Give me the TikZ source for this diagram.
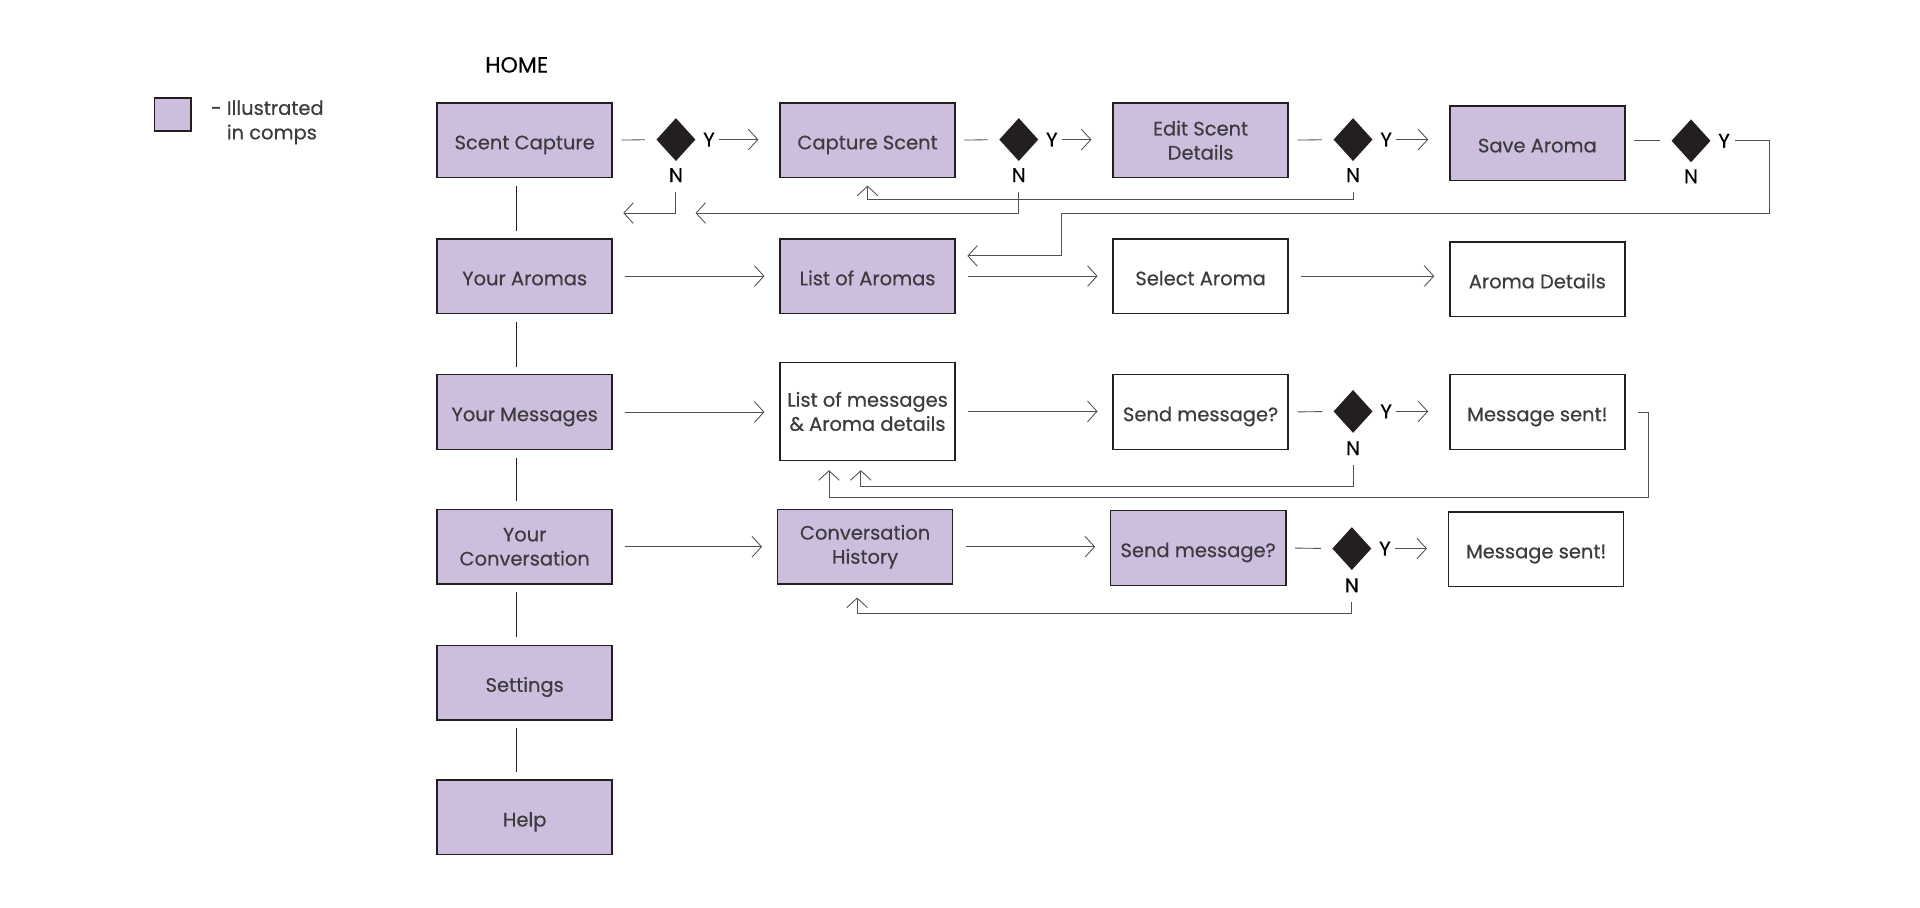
\documentclass[tikz,border=0pt]{standalone}
\usepackage{fontspec}
\setmainfont{Poppins}[FakeBold=0.4]
\usetikzlibrary{shapes.geometric,arrows.meta}
\definecolor{lav}{RGB}{206,190,222}
\definecolor{edge}{RGB}{35,31,32}
\definecolor{ink}{RGB}{60,59,61}
\definecolor{wire}{RGB}{80,80,80}
\begin{document}
\begin{tikzpicture}[x=0.025cm,y=-0.025cm,draw=wire,>={Straight Barb[length=5.5pt,width=12pt]}]
	\tikzstyle{screen}=[rectangle,draw=edge,line width=0.9pt,
	minimum width=3.575cm,minimum height=1.525cm,
	inner sep=2pt,align=center,text=ink,
	font=\fontsize{11.3}{14}\selectfont
	]
	\tikzstyle{comp}=[screen, fill=lav];
	\tikzstyle{plain}=[screen, fill=white];
	\tikzstyle{one}=[text height=10.6pt,text depth=0pt];
	\tikzstyle{choice}=[diamond,fill=edge,minimum width=0.8cm,minimum height=0.88cm,inner sep=0pt];
	\tikzstyle{yn}=[inner sep=0pt,text=black,font=\fontsize{11.5}{12}\selectfont];
	\tikzstyle{flow}=[->,line width=0.5pt,shorten <=0.25cm,shorten >=0.3cm];
	\tikzstyle{stub}=[line width=0.5pt,shorten <=0.175cm,shorten >=0.225cm];
	\tikzstyle{back}=[->,line width=0.5pt,shorten <=0.2cm];

\useasboundingbox (0,0) rectangle (1568,741);

\node[screen,fill=lav,minimum width=0.75cm,minimum height=0.675cm](key) at (141,93.5){};
\node[anchor=west,align=left,inner sep=0pt,text=ink,font=\fontsize{11.3}{14.2}\selectfont](keytext) at (172,100){- Illustrated\\\phantom{- }in comps};
\node[yn,font=\fontsize{12.8}{14}\selectfont](home) at (422,53){HOME};

\node[comp,one](sc) at (428.5,114.5){Scent Capture};
\node[comp,one](ya) at (428.5,225.5){Your Aromas};
\node[comp,one](ym) at (428.5,336.5){Your Messages};
\node[comp](yc) at (428.5,446.5){Your\\Conversation};
\node[comp,one](st) at (428.5,557.5){Settings};
\node[comp,one](hp) at (428.5,667.5){Help};

\node[comp,one](cs) at (708.5,114.5){Capture Scent};
\node[comp](es) at (980.5,114.5){Edit Scent\\Details};
\node[comp,one](sv) at (1255.5,117){Save Aroma};

\node[comp,one](la) at (708.5,225.5){List of Aromas};
\node[plain,one](sa) at (980.5,225.5){Select Aroma};
\node[plain,one](ad) at (1255.5,228){Aroma Details};

\node[plain,minimum height=2cm](lm) at (708.5,336){List of messages\\\&~Aroma details};
\node[plain,one](sm1) at (980.5,336.5){Send message?};
\node[plain,one](ms1) at (1255.5,336.5){Message sent!};

\node[comp](ch) at (706.5,446.5){Conversation\\History};
\node[comp,one](sm2) at (978.5,447.5){Send message?};
\node[plain,one](ms2) at (1254.5,448.5){Message sent!};

\node[choice](d1) at (552,114){};
\node[choice](d2) at (832,114){};
\node[choice](d3) at (1105,114){};
\node[choice](d4) at (1381,115){};
\node[choice](d5) at (1105,336){};
\node[choice](d6) at (1104,448){};

\node[yn](y1) at (579,114){Y};
\node[yn](y2) at (859,114){Y};
\node[yn](y3) at (1132,114){Y};
\node[yn](y4) at (1408,115){Y};
\node[yn](y5) at (1132,336){Y};
\node[yn](y6) at (1131,448){Y};
\node[yn](n1) at (552,143){N};
\node[yn](n2) at (832,143){N};
\node[yn](n3) at (1105,143){N};
\node[yn](n4) at (1381,144){N};
\node[yn](n5) at (1105,366){N};
\node[yn](n6) at (1104,478){N};

\coordinate (t1) at (509,174);
\coordinate (t2) at (568,174);
\coordinate (b3) at (708.5,163);
\coordinate (c4a) at (1445,174);
\coordinate (c4b) at (867,174);
\coordinate (t4) at (790,209);
\coordinate (b5) at (703,397);
\coordinate (t5) at (703,384);
\coordinate (c6) at (1346,406);
\coordinate (b6) at (677,406);
\coordinate (t6) at (677,384);
\coordinate (b7) at (700,501);
\coordinate (t7) at (700,488);

\foreach \a/\b in {sc/ya,ya/ym,ym/yc,yc/st,st/hp}
	\draw[line width=0.6pt,draw=edge,shorten <=0.15cm,shorten >=0.15cm] ([xshift=-0.1625cm]\a.south) -- ([xshift=-0.1625cm]\b.north);

\draw[stub] (sc.east) -- (d1.west);
\draw[stub] (cs.east) -- (d2.west);
\draw[stub] (es.east) -- (d3.west);
\draw[stub] (sv.east |- d4.west) -- (d4.west);
\draw[stub] (sm1.east) -- (d5.west);
\draw[stub] (sm2.east) -- (d6.west);

\draw[flow,shorten <=0.075cm,shorten >=0.425cm] (y1.east) -- (y1.east -| cs.west);
\draw[flow,shorten <=0.075cm,shorten >=0.425cm] (y2.east) -- (y2.east -| es.west);
\draw[flow,shorten <=0.075cm,shorten >=0.425cm] (y3.east) -- (y3.east -| sv.west);
\draw[flow,shorten <=0.075cm,shorten >=0.425cm] (y5.east) -- (y5.east -| ms1.west);
\draw[flow,shorten <=0.075cm,shorten >=0.425cm] (y6.east) -- (y6.east -| ms2.west);

\draw[flow] (ya.east) -- (la.west);
\draw[flow] (la.east) -- (sa.west);
\draw[flow] (sa.east) -- (sa.east -| ad.west);
\draw[flow] (ym.east) -- (ym.east -| lm.west);
\draw[flow] (lm.east) -- (lm.east -| sm1.west);
\draw[flow] (yc.east) -- (ch.west);
\draw[flow] (ch.east) -- (ch.east -| sm2.west);

\draw[back] (n1.south) |- (t1);
\draw[back] (n2.south) |- (t2);
\draw[back,shorten >=0.15cm] (n3.south) |- (b3) -- (cs.south);
\draw[back,shorten <=0.1cm] (y4.east) -| (c4a) -- (c4b) |- (t4);
\draw[back] (n5.south) |- (b5) -- (t5);
\draw[back,shorten <=0.25cm] (ms1.east) -| (c6) -- (b6) -- (t6);
\draw[back] (n6.south) |- (b7) -- (t7);

\end{tikzpicture}
\end{document}
